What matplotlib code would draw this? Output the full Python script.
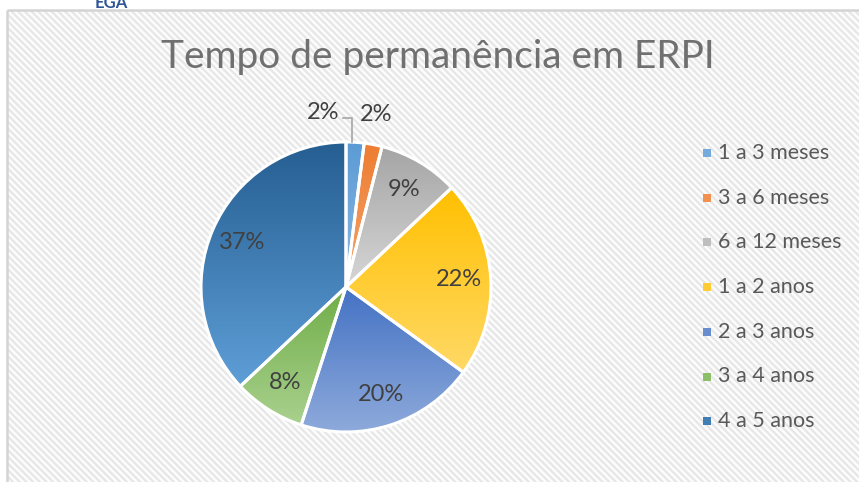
import numpy as np
import matplotlib
matplotlib.use("Agg")
import matplotlib.pyplot as plt
from matplotlib.colors import LinearSegmentedColormap, to_rgb
from matplotlib.patches import Rectangle

categories = ["1 a 3 meses", "3 a 6 meses", "6 a 12 meses", "1 a 2 anos",
              "2 a 3 anos", "3 a 4 anos", "4 a 5 anos"]
values = [2, 2, 9, 22, 20, 8, 37]
top_colors = ["#5B9BD5", "#ED7D31", "#A5A5A5", "#FFC000", "#4472C4", "#70AD47", "#255E91"]
bottom_colors = ["#8DB8E3", "#F4A46E", "#D6D6D6", "#FFD966", "#8EAADB", "#A9D18E", "#5E9ED7"]
title = "Tempo de permanência em ERPI"

FONT = ["Lato", "DejaVu Sans"]
W, H = 859, 482
fig = plt.figure(figsize=(W / 100, H / 100), dpi=100)
fig.patch.set_facecolor("white")

# background with diagonal stripes
bg = fig.add_axes([0, 0, 1, 1])
bg.set_xlim(0, W)
bg.set_ylim(H, 0)
bg.axis("off")
xx, yy = np.meshgrid(np.arange(7, W) + 0.5, np.arange(10, H) + 0.5)
P = 6.7
s = 0.5 + 0.5 * np.cos(2 * np.pi * (xx - yy) / P)
g = 1.0 - 0.10 * s
img = np.dstack([g, g, g])
bg.imshow(img, extent=[7, W, H, 10], aspect="auto", interpolation="bilinear", zorder=0)
bg.plot([7, 7], [H, 10], color="#d4d4d4", lw=1.8, zorder=1, solid_capstyle="butt")
bg.plot([7, W], [10, 10], color="#d4d4d4", lw=1.8, zorder=1, solid_capstyle="butt")
bg.text(111, 8, "EGA", color="#2E5597", fontsize=12, fontweight="bold",
        ha="center", va="baseline", family=FONT)
bg.set_xlim(0, W)
bg.set_ylim(H, 0)

# title
fig.text(438 / W, 1 - 57 / H, title, ha="center", va="center",
         fontsize=28, color="#707070", family=FONT)

# pie
cx, cy, R = 346, 287, 145
ax = fig.add_axes([(cx - R) / W, (H - cy - R) / H, 2 * R / W, 2 * R / H])
wedges, _ = ax.pie(values, startangle=90, counterclock=False, radius=1,
                   wedgeprops=dict(edgecolor="white", linewidth=2.2, facecolor="none"))
for w, ct, cb in zip(wedges, top_colors, bottom_colors):
    w.set_zorder(3)
    ext = w.get_path().get_extents()
    cmap = LinearSegmentedColormap.from_list("g", [cb, ct])
    grad = np.linspace(0, 1, 256).reshape(-1, 1)
    im = ax.imshow(grad, extent=[ext.x0, ext.x1, ext.y0, ext.y1], origin="lower",
                   cmap=cmap, aspect="auto", zorder=2, interpolation="bilinear")
    im.set_clip_path(w)
ax.set_xlim(-1.0, 1.0)
ax.set_ylim(-1.0, 1.0)
ax.set_aspect("equal")
ax.axis("off")

for i, (w, v) in enumerate(zip(wedges, values)):
    mid = np.deg2rad((w.theta1 + w.theta2) / 2)
    if v >= 5:
        r = 0.78
        ax.text(r * np.cos(mid), r * np.sin(mid), f"{v}%", ha="center", va="center",
                fontsize=17, color="#404040", family=FONT, zorder=5)

# small slices: labels outside
m0 = np.deg2rad((wedges[0].theta1 + wedges[0].theta2) / 2)
x0 = np.cos(m0) * 0.65
ax.plot([x0, x0, -0.02], [np.sqrt(1 - x0 ** 2), 1.166, 1.166], color="#a6a6a6",
        lw=1.2, clip_on=False, zorder=4)
ax.text(-0.16, 1.205, f"{values[0]}%", ha="center", va="center", fontsize=17,
        color="#404040", family=FONT, clip_on=False)
ax.text(0.207, 1.19, f"{values[1]}%", ha="center", va="center", fontsize=17,
        color="#404040", family=FONT, clip_on=False)

# legend (manual)
for i, (lab, ct, cb) in enumerate(zip(categories, top_colors, bottom_colors)):
    yc = 153 + i * 44.7
    c = (np.array(to_rgb(ct)) + np.array(to_rgb(cb))) / 2
    bg.add_patch(Rectangle((703, yc - 4), 8, 8, facecolor=c, edgecolor="none", zorder=3))
    bg.text(718, yc, lab, ha="left", va="center", fontsize=15.5, color="#595959",
            family=FONT, zorder=3)

fig.savefig("out.png", dpi=100)
